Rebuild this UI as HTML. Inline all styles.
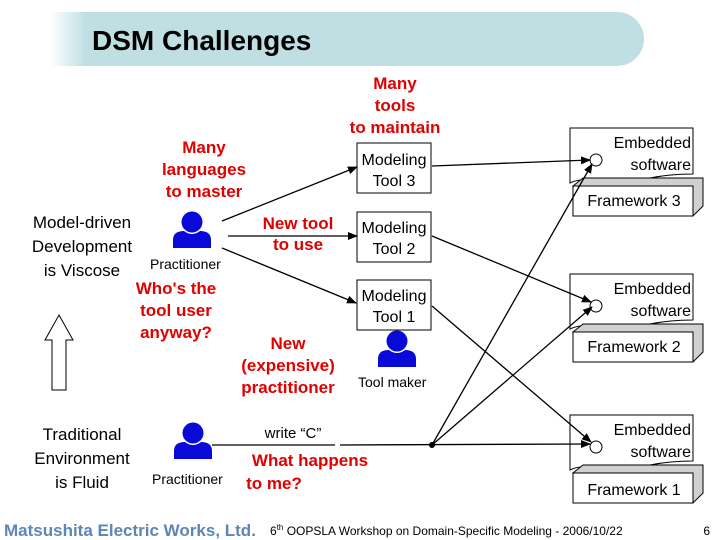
<!DOCTYPE html>
<html><head><meta charset="utf-8"><style>
html,body{margin:0;padding:0;background:#fff;}
svg{display:block;}
text{font-family:"Liberation Sans",sans-serif;}
.r{fill:#e00000;font-weight:bold;font-size:17px;text-anchor:middle;}
.b{fill:#000;font-size:17px;text-anchor:middle;}
.s{fill:#000;font-size:14px;}
</style></head><body>
<svg width="720" height="540" viewBox="0 0 720 540" xmlns="http://www.w3.org/2000/svg">
<defs>
<linearGradient id="g" x1="0" x2="1" y1="0" y2="0">
<stop offset="0" stop-color="#fff"/><stop offset="0.06" stop-color="#bfdfe2"/><stop offset="1" stop-color="#bfdfe2"/>
</linearGradient>
<marker id="a" markerWidth="10" markerHeight="8" refX="9" refY="4" orient="auto" markerUnits="userSpaceOnUse">
<path d="M0,0 L10,4 L0,8 z" fill="#000"/></marker>
<g id="p"><circle cx="0" cy="-12" r="10.5" fill="#0a0ad8"/><path d="M-19,14 L-19,6 Q-19,-3 -8,-3 Q0,3 8,-3 Q19,-3 19,6 L19,14 z" fill="#0a0ad8"/></g>
<g id="emb">
<path d="M0,0 H123 V46 Q100,46 80,50 Q50,56 20,52 Q8,51 0,55 z" fill="#fff" stroke="#000"/>
<path d="M3,58 L13,50 L133,50 L133,78 L123,88 z" fill="#d0d0d0" stroke="#000"/>
<rect x="3" y="58" width="120" height="30" fill="#fff" stroke="#000"/>
<circle cx="26" cy="32" r="6" fill="#fff" stroke="#000"/>
<text x="121" y="20" font-size="16" text-anchor="end">Embedded</text>
<text x="121" y="42" font-size="16" text-anchor="end">software</text>
</g>
</defs>
<path d="M50,12 H617 A27,27 0 0 1 617,66 H50 z" fill="url(#g)"/>
<text x="92" y="50" font-size="28" font-weight="bold">DSM Challenges</text>

<text class="r" x="395" y="89">Many</text>
<text class="r" x="395" y="111">tools</text>
<text class="r" x="395" y="133">to maintain</text>
<text class="r" x="204" y="153">Many</text>
<text class="r" x="204" y="175">languages</text>
<text class="r" x="204" y="197">to master</text>
<text class="r" x="298" y="229">New tool</text>
<text class="r" x="298" y="250">to use</text>
<text class="r" x="176" y="294">Who's the</text>
<text class="r" x="176" y="316">tool user</text>
<text class="r" x="176" y="338">anyway?</text>
<text class="r" x="288" y="349">New</text>
<text class="r" x="288" y="371">(expensive)</text>
<text class="r" x="288" y="393">practitioner</text>
<text class="r" x="310" y="466">What happens</text>
<text class="r" x="274" y="489" text-anchor="start">to me?</text>

<text class="b" x="82" y="228">Model-driven</text>
<text class="b" x="82" y="252">Development</text>
<text class="b" x="82" y="276">is Viscose</text>
<text class="b" x="82" y="440">Traditional</text>
<text class="b" x="82" y="464">Environment</text>
<text class="b" x="82" y="488">is Fluid</text>

<path d="M59,315 L73,340 H66 V390 H52 V340 H45 z" fill="#fff" stroke="#000"/>

<use href="#p" x="192" y="234"/>
<text class="s" x="150" y="269">Practitioner</text>
<use href="#p" x="397" y="353"/>
<text class="s" x="358" y="387">Tool maker</text>
<use href="#p" x="193" y="445"/>
<text class="s" x="152" y="484">Practitioner</text>
<text x="293" y="438" font-size="15" text-anchor="middle">write “C”</text>

<g fill="#fff" stroke="#000">
<rect x="357" y="143" width="74" height="50"/>
<rect x="357" y="212" width="74" height="50"/>
<rect x="357" y="280" width="74" height="50"/>
</g>
<g font-size="16" text-anchor="middle">
<text x="394" y="165">Modeling</text><text x="394" y="186">Tool 3</text>
<text x="394" y="233">Modeling</text><text x="394" y="254">Tool 2</text>
<text x="394" y="301">Modeling</text><text x="394" y="322">Tool 1</text>
</g>

<use href="#emb" x="570" y="128"/>
<text x="634" y="206" font-size="16" text-anchor="middle">Framework 3</text>
<use href="#emb" x="570" y="274"/>
<text x="634" y="352" font-size="16" text-anchor="middle">Framework 2</text>
<use href="#emb" x="570" y="415"/>
<text x="634" y="495" font-size="16" text-anchor="middle">Framework 1</text>

<g stroke="#000" stroke-width="1.3" fill="none" marker-end="url(#a)">
<line x1="222" y1="221" x2="357" y2="167"/>
<line x1="228" y1="236" x2="357" y2="236"/>
<line x1="222" y1="248" x2="356" y2="303"/>
<line x1="432" y1="166" x2="590" y2="160"/>
<line x1="432" y1="236" x2="591" y2="302"/>
<line x1="432" y1="306" x2="591" y2="442"/>
<line x1="432" y1="445" x2="592" y2="164"/>
<line x1="432" y1="445" x2="592" y2="307"/>
<line x1="340" y1="445" x2="590" y2="444"/>
</g>
<line x1="212" y1="445" x2="335" y2="445" stroke="#000" stroke-width="1.3"/>
<circle cx="432" cy="445" r="3" fill="#000"/>

<text x="4" y="536" font-size="17" font-weight="bold" fill="#5b86b5">Matsushita Electric Works, Ltd.</text>
<text x="270" y="535" font-size="12">6<tspan font-size="8" dy="-5">th</tspan><tspan dy="5"> OOPSLA Workshop on Domain-Specific Modeling - 2006/10/22</tspan></text>
<text x="710" y="535" font-size="12" text-anchor="end">6</text>
</svg>
</body></html>
